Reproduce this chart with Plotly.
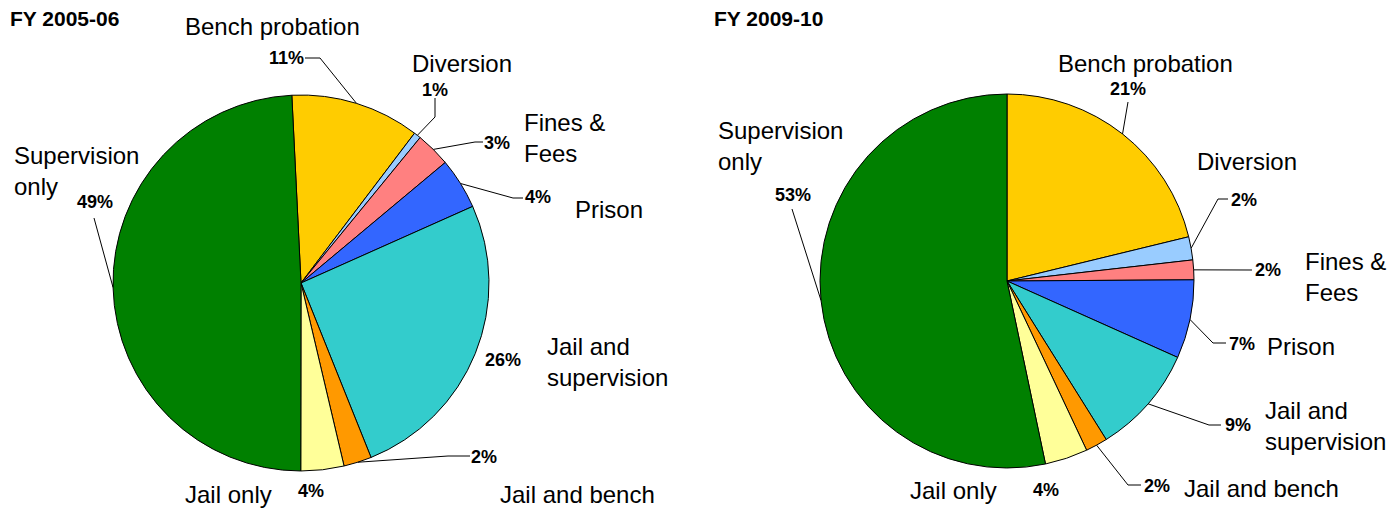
import math
import plotly.graph_objects as go

# ---------------- data ----------------
categories = ["Bench probation", "Diversion", "Fines & Fees", "Prison",
              "Jail and supervision", "Jail and bench", "Jail only", "Supervision only"]
display_names = ["Bench probation", "Diversion", "Fines &amp;<br>Fees", "Prison",
                 "Jail and<br>supervision", "Jail and bench", "Jail only", "Supervision<br>only"]
share_2005_06 = [11.1, 0.6, 3.0, 4.4, 25.6, 2.4, 3.7, 49.2]
share_2009_10 = [21.2, 2.0, 1.7, 6.8, 9.4, 1.9, 3.7, 53.3]
titles = ["FY 2005-06", "FY 2009-10"]
colors = ["#FFCC00", "#99CCFF", "#FF8080", "#3366FF",
          "#33CCCC", "#FF9900", "#FFFF99", "#008000"]

# ---------------- layout (pixels, in screen coordinates) ----------------
PAGE_MARGIN = 8          # default body margin of the browser page
W, H = 1400 - PAGE_MARGIN, 508 - PAGE_MARGIN
FONT = "Liberation Sans, Arial, sans-serif"

pies = [
    dict(values=share_2005_06, cx=301, cy=283, r=188, rotation=-2.8, title_x=8,
         pct_xy=[(286, 58), (435, 90), (497, 143), (538, 197), (503, 360), (484, 457), (311, 491), (95, 202)],
         leader=[[(305, 58), (320, 58)], [(435, 98), (435, 117)], [(483, 142), (475, 142)],
                 [(523, 198), (513, 198)], [], [(470, 456), (448, 456)], [], [(94, 218)]],
         name_xy=[(272, 26, "center"), (462, 64, "center"), (522, 138, "left"), (609, 209, "center"),
                  (545, 362, "left"), (577, 494, "center"), (228, 494, "center"), (12, 171, "left")]),
    dict(values=share_2009_10, cx=1007, cy=281, r=187, rotation=0, title_x=712,
         pct_xy=[(1128, 89), (1244, 200), (1268, 270), (1242, 344), (1238, 425), (1157, 486), (1046, 490), (793, 195)],
         leader=[[(1128, 102)], [(1228, 199), (1218, 199)], [(1252, 270)], [(1226, 343), (1213, 343)],
                 [(1221, 425), (1209, 425)], [(1141, 485), (1128, 485)], [], [(792, 209)]],
         name_xy=[(1145, 64, "center"), (1247, 161, "center"), (1303, 277, "left"), (1265, 346, "left"),
                  (1263, 426, "left"), (1182, 488, "left"), (953, 490, "center"), (716, 146, "left")]),
]


def px(x):
    return (x - PAGE_MARGIN) / W


def py(y):
    return 1 - (y - PAGE_MARGIN) / H


fig = go.Figure()
annotations = []
shapes = []

for k, p in enumerate(pies):
    cx, cy, r = p["cx"], p["cy"], p["r"]
    fig.add_trace(go.Pie(
        labels=categories, values=p["values"], sort=False, direction="clockwise",
        rotation=p["rotation"], textinfo="none", hoverinfo="label+percent",
        marker=dict(colors=colors, line=dict(color="black", width=1)),
        domain=dict(x=[px(cx - r), px(cx + r)], y=[py(cy + r), py(cy - r)]),
        showlegend=False,
    ))
    total = sum(p["values"])
    cum = 0.0
    for i, v in enumerate(p["values"]):
        mid = math.radians(p["rotation"] + 360.0 * (cum + v / 2.0) / total)
        cum += v
        ex = cx + r * math.sin(mid)
        ey = cy - r * math.cos(mid)
        # percentage label
        tx, ty = p["pct_xy"][i]
        annotations.append(dict(
            x=px(tx), y=py(ty), xref="paper", yref="paper", showarrow=False,
            text="<b>%d%%</b>" % round(100.0 * v / total),
            font=dict(family=FONT, size=18, color="black"),
            xanchor="center", yanchor="middle"))
        # leader line
        pts = p["leader"][i]
        if pts:
            path = "M %f,%f" % (px(pts[0][0]), py(pts[0][1]))
            for (lx, ly) in pts[1:]:
                path += " L %f,%f" % (px(lx), py(ly))
            path += " L %f,%f" % (px(ex), py(ey))
            shapes.append(dict(type="path", path=path, xref="paper", yref="paper",
                               line=dict(color="black", width=1)))
        # category label
        nx, ny, anc = p["name_xy"][i]
        annotations.append(dict(
            x=px(nx), y=py(ny), xref="paper", yref="paper", showarrow=False,
            text=display_names[i], align=anc,
            font=dict(family=FONT, size=24, color="black"),
            xanchor=anc, yanchor="middle"))
    annotations.append(dict(
        x=px(p["title_x"]), y=py(18), xref="paper", yref="paper", showarrow=False,
        text="<b>%s</b>" % titles[k], font=dict(family=FONT, size=21, color="black"),
        xanchor="left", yanchor="middle"))

fig.update_layout(
    width=W, height=H, margin=dict(l=0, r=0, t=0, b=0),
    paper_bgcolor="white", plot_bgcolor="white",
    annotations=annotations, shapes=shapes,
)

fig.write_html("out.html")
